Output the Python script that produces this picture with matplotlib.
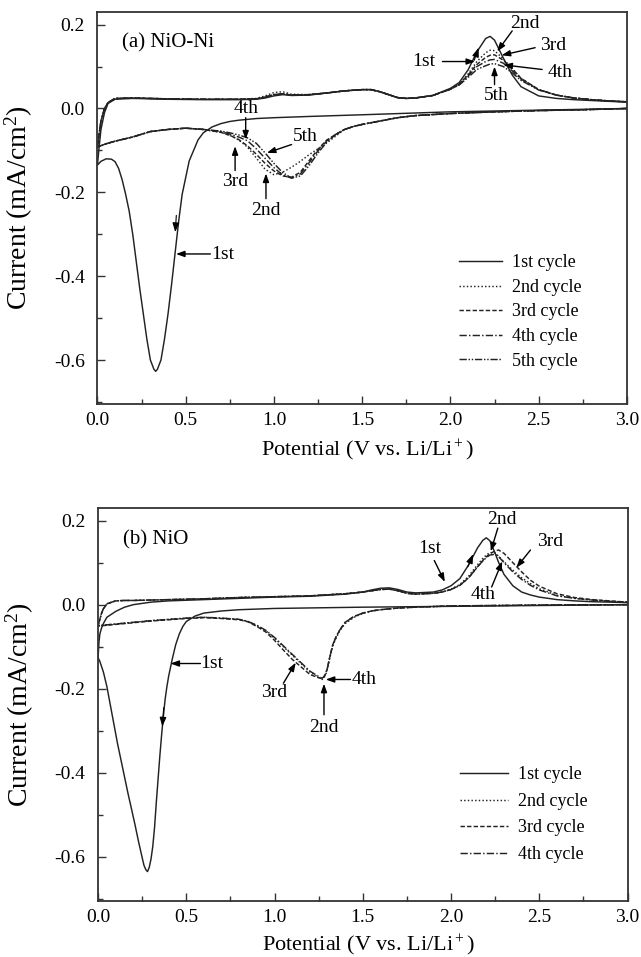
import numpy as np
import matplotlib
matplotlib.use('Agg')
import matplotlib.pyplot as plt
from matplotlib.ticker import MultipleLocator

plt.rcParams['font.family'] = ['Liberation Serif', 'DejaVu Serif']
plt.rcParams['mathtext.fontset'] = 'custom'
plt.rcParams['mathtext.rm'] = 'Liberation Serif'
plt.rcParams['mathtext.it'] = 'Liberation Serif:italic'

# ---------------- panel (a) NiO-Ni ----------------
# first cycle, cathodic scan (3.0 V -> 0 V)
a1_cat_v = [3.0, 2.5, 2.0, 1.5, 1.2, 1.0, 0.9, 0.8, 0.75, 0.7, 0.65, 0.6, 0.57, 0.55, 0.52,
            0.5, 0.48, 0.46, 0.44, 0.42, 0.4, 0.38, 0.36, 0.34, 0.33, 0.32, 0.3, 0.28, 0.26,
            0.24, 0.22, 0.2, 0.18, 0.16, 0.14, 0.12, 0.1, 0.08, 0.05, 0.02, 0.0]
a1_cat_i = [0.0, -0.004, -0.008, -0.015, -0.019, -0.022, -0.024, -0.028, -0.031, -0.036,
            -0.044, -0.058, -0.075, -0.095, -0.125, -0.165, -0.205, -0.27, -0.345, -0.42,
            -0.49, -0.55, -0.60, -0.622, -0.627, -0.622, -0.60, -0.55, -0.49, -0.43, -0.365,
            -0.30, -0.245, -0.205, -0.17, -0.143, -0.127, -0.121, -0.12, -0.126, -0.135]

# later cycles, cathodic scan
a_cat_v = [3.0, 2.75, 2.5, 2.25, 2.0, 1.8, 1.7, 1.6, 1.5, 1.45, 1.4, 1.35, 1.3, 1.25, 1.2,
           1.15, 1.1, 1.05, 1.0, 0.95, 0.9, 0.85, 0.8, 0.75, 0.7, 0.6, 0.5, 0.4, 0.3, 0.2,
           0.1, 0.05, 0.0]
a2_cat_i = [0.0, -0.003, -0.005, -0.008, -0.012, -0.017, -0.022, -0.03, -0.038, -0.043,
            -0.05, -0.066, -0.082, -0.096, -0.11, -0.126, -0.14, -0.152, -0.158, -0.145,
            -0.118, -0.092, -0.075, -0.064, -0.057, -0.05, -0.047, -0.05, -0.055, -0.068,
            -0.078, -0.084, -0.092]
a3_cat_i = [0.0, -0.003, -0.005, -0.008, -0.012, -0.017, -0.022, -0.03, -0.038, -0.043,
            -0.05, -0.062, -0.075, -0.097, -0.124, -0.152, -0.164, -0.161, -0.149, -0.131,
            -0.109, -0.089, -0.074, -0.064, -0.057, -0.05, -0.047, -0.05, -0.055, -0.068,
            -0.078, -0.084, -0.092]
a4_cat_i = [0.0, -0.003, -0.005, -0.008, -0.012, -0.017, -0.022, -0.03, -0.038, -0.043,
            -0.05, -0.062, -0.077, -0.101, -0.129, -0.156, -0.166, -0.159, -0.141, -0.119,
            -0.096, -0.077, -0.068, -0.061, -0.055, -0.05, -0.047, -0.05, -0.055, -0.068,
            -0.078, -0.084, -0.092]
a5_cat_i = [0.0, -0.003, -0.005, -0.008, -0.012, -0.017, -0.022, -0.03, -0.038, -0.043,
            -0.05, -0.062, -0.08, -0.106, -0.136, -0.161, -0.166, -0.153, -0.131, -0.106,
            -0.083, -0.07, -0.063, -0.058, -0.054, -0.05, -0.047, -0.05, -0.055, -0.068,
            -0.078, -0.084, -0.092]

# anodic scan (0 V -> 3.0 V)
a_an_v = [0.0, 0.01, 0.02, 0.04, 0.06, 0.1, 0.2, 0.4, 0.6, 0.8, 0.9, 0.95, 1.0, 1.05, 1.1,
          1.2, 1.3, 1.4, 1.5, 1.55, 1.6, 1.65, 1.7, 1.75, 1.8, 1.9, 2.0, 2.05, 2.1, 2.15,
          2.2, 2.225, 2.25, 2.3, 2.35, 2.4, 2.5, 2.6, 2.7, 2.8, 2.9, 3.0]
a1_an_i = [-0.135, -0.09, -0.05, -0.01, 0.012, 0.022, 0.024, 0.022, 0.021, 0.021, 0.022,
           0.025, 0.03, 0.033, 0.031, 0.032, 0.037, 0.042, 0.045, 0.045, 0.04, 0.033, 0.026,
           0.024, 0.025, 0.031, 0.048, 0.062, 0.092, 0.135, 0.167, 0.172, 0.163, 0.12, 0.08,
           0.052, 0.03, 0.024, 0.021, 0.019, 0.017, 0.015]
a2_an_i = [-0.092, -0.06, -0.03, 0.0, 0.014, 0.024, 0.025, 0.023, 0.022, 0.022, 0.024,
           0.03, 0.038, 0.04, 0.034, 0.033, 0.037, 0.042, 0.045, 0.045, 0.04, 0.033, 0.026,
           0.024, 0.025, 0.031, 0.046, 0.058, 0.082, 0.112, 0.133, 0.139, 0.138, 0.118,
           0.095, 0.072, 0.045, 0.032, 0.025, 0.021, 0.018, 0.016]
a3_an_i = [-0.092, -0.06, -0.03, 0.0, 0.014, 0.024, 0.025, 0.023, 0.022, 0.022, 0.023,
           0.027, 0.033, 0.035, 0.032, 0.033, 0.037, 0.042, 0.045, 0.045, 0.04, 0.033, 0.026,
           0.024, 0.025, 0.031, 0.046, 0.058, 0.08, 0.105, 0.122, 0.127, 0.128, 0.115,
           0.095, 0.072, 0.045, 0.032, 0.025, 0.021, 0.018, 0.016]
a4_an_i = [-0.092, -0.06, -0.03, 0.0, 0.014, 0.024, 0.025, 0.023, 0.022, 0.022, 0.023,
           0.027, 0.033, 0.035, 0.032, 0.033, 0.037, 0.042, 0.045, 0.045, 0.04, 0.033, 0.026,
           0.024, 0.025, 0.031, 0.046, 0.057, 0.077, 0.1, 0.112, 0.116, 0.117, 0.108,
           0.09, 0.07, 0.045, 0.032, 0.025, 0.021, 0.018, 0.016]
a5_an_i = [-0.092, -0.06, -0.03, 0.0, 0.014, 0.024, 0.025, 0.023, 0.022, 0.022, 0.023,
           0.027, 0.033, 0.035, 0.032, 0.033, 0.037, 0.042, 0.045, 0.045, 0.04, 0.033, 0.026,
           0.024, 0.025, 0.031, 0.046, 0.056, 0.074, 0.093, 0.102, 0.106, 0.107, 0.1,
           0.085, 0.067, 0.044, 0.032, 0.025, 0.021, 0.018, 0.016]

# ---------------- panel (b) NiO ----------------
b1_cat_v = [3.0, 2.5, 2.0, 1.5, 1.0, 0.8, 0.7, 0.6, 0.55, 0.5, 0.48, 0.46, 0.44, 0.42, 0.4,
            0.39, 0.38, 0.37, 0.36, 0.35, 0.34, 0.33, 0.32, 0.31, 0.3, 0.29, 0.28, 0.27,
            0.26, 0.25, 0.23, 0.21, 0.19, 0.17, 0.15, 0.13, 0.11, 0.09, 0.07, 0.05, 0.03,
            0.01, 0.0]
b1_cat_i = [0.0, -0.002, -0.004, -0.006, -0.009, -0.012, -0.015, -0.02, -0.027, -0.04,
            -0.052, -0.07, -0.095, -0.13, -0.17, -0.195, -0.225, -0.265, -0.31, -0.36,
            -0.415, -0.47, -0.53, -0.575, -0.605, -0.625, -0.635, -0.63, -0.62, -0.602,
            -0.565, -0.525, -0.487, -0.45, -0.41, -0.37, -0.33, -0.285, -0.24, -0.195,
            -0.16, -0.135, -0.126]

b_cat_v = [3.0, 2.5, 2.0, 1.8, 1.7, 1.6, 1.55, 1.5, 1.45, 1.4, 1.37, 1.35, 1.33, 1.31, 1.3,
           1.29, 1.28, 1.27, 1.25, 1.2, 1.15, 1.1, 1.05, 1.0, 0.95, 0.9, 0.85, 0.8, 0.7, 0.6,
           0.5, 0.4, 0.3, 0.2, 0.1, 0.0]
b2_cat_i = [0.0, -0.001, -0.003, -0.006, -0.008, -0.012, -0.015, -0.021, -0.03, -0.045,
            -0.062, -0.078, -0.098, -0.132, -0.152, -0.166, -0.174, -0.178, -0.173, -0.16,
            -0.14, -0.12, -0.1, -0.08, -0.062, -0.05, -0.04, -0.035, -0.032, -0.03, -0.032,
            -0.035, -0.038, -0.042, -0.046, -0.05]
b3_cat_i = [0.0, -0.001, -0.003, -0.006, -0.008, -0.012, -0.015, -0.02, -0.028, -0.042,
            -0.06, -0.075, -0.095, -0.13, -0.15, -0.164, -0.172, -0.176, -0.174, -0.166,
            -0.148, -0.13, -0.108, -0.085, -0.065, -0.052, -0.041, -0.036, -0.033, -0.031,
            -0.033, -0.036, -0.039, -0.043, -0.047, -0.051]
b4_cat_i = [0.0, -0.001, -0.003, -0.006, -0.008, -0.012, -0.015, -0.02, -0.028, -0.042,
            -0.06, -0.075, -0.095, -0.13, -0.15, -0.164, -0.171, -0.175, -0.171, -0.158,
            -0.138, -0.118, -0.098, -0.078, -0.061, -0.049, -0.04, -0.035, -0.032, -0.03,
            -0.032, -0.035, -0.038, -0.042, -0.046, -0.05]

b_an_v = [0.0, 0.005, 0.01, 0.02, 0.03, 0.05, 0.1, 0.15, 0.2, 0.3, 0.4, 0.6, 0.8, 1.0, 1.2,
          1.4, 1.5, 1.55, 1.6, 1.65, 1.7, 1.75, 1.8, 1.9, 1.95, 2.0, 2.05, 2.1, 2.15, 2.18,
          2.2, 2.22, 2.25, 2.27, 2.3, 2.35, 2.4, 2.45, 2.5, 2.6, 2.7, 2.8, 2.9, 3.0]
b1_an_i = [-0.126, -0.09, -0.07, -0.055, -0.045, -0.03, -0.016, -0.006, 0.0, 0.006, 0.009,
           0.012, 0.015, 0.018, 0.02, 0.025, 0.03, 0.035, 0.039, 0.04, 0.036, 0.03, 0.028,
           0.03, 0.035, 0.045, 0.062, 0.095, 0.135, 0.153, 0.159, 0.152, 0.122, 0.1, 0.072,
           0.045, 0.03, 0.023, 0.018, 0.012, 0.009, 0.007, 0.006, 0.005]
b2_an_i = [-0.05, -0.042, -0.035, -0.02, -0.01, 0.002, 0.009, 0.01, 0.01, 0.011, 0.012,
           0.014, 0.017, 0.019, 0.021, 0.026, 0.03, 0.033, 0.036, 0.037, 0.033, 0.027, 0.025,
           0.027, 0.03, 0.037, 0.048, 0.068, 0.095, 0.11, 0.118, 0.124, 0.123, 0.115, 0.102,
           0.082, 0.064, 0.05, 0.038, 0.022, 0.015, 0.011, 0.008, 0.006]
b3_an_i = [-0.051, -0.042, -0.035, -0.02, -0.01, 0.002, 0.009, 0.01, 0.01, 0.011, 0.012,
           0.014, 0.017, 0.019, 0.021, 0.026, 0.03, 0.033, 0.036, 0.037, 0.033, 0.027, 0.025,
           0.027, 0.03, 0.036, 0.046, 0.064, 0.09, 0.105, 0.114, 0.121, 0.128, 0.13, 0.122,
           0.1, 0.078, 0.058, 0.044, 0.026, 0.017, 0.012, 0.009, 0.006]
b4_an_i = [-0.05, -0.042, -0.035, -0.02, -0.01, 0.002, 0.009, 0.01, 0.01, 0.011, 0.012,
           0.014, 0.017, 0.019, 0.021, 0.026, 0.03, 0.033, 0.036, 0.037, 0.033, 0.027, 0.025,
           0.027, 0.03, 0.036, 0.046, 0.064, 0.09, 0.104, 0.112, 0.118, 0.12, 0.114, 0.1,
           0.078, 0.06, 0.046, 0.035, 0.021, 0.015, 0.011, 0.008, 0.006]

cycle_labels = ['1st cycle', '2nd cycle', '3rd cycle', '4th cycle', '5th cycle']
styles = ['-', (0, (1, 1.5)), (0, (3, 1.5)), (0, (5, 1.5, 1, 1.5)), (0, (5, 1.2, 1, 1.2, 1, 1.2))]
line_col = '#222222'


def cycle(cat_v, cat_i, an_v, an_i):
    return np.array(cat_v + an_v), np.array(cat_i + an_i)


def style_axes(ax, xlab_y):
    ax.set_xlim(0, 3.0)
    ax.set_ylim(-0.705, 0.23)
    ax.xaxis.set_major_locator(MultipleLocator(0.5))
    ax.xaxis.set_minor_locator(MultipleLocator(0.25))
    ax.yaxis.set_major_locator(MultipleLocator(0.2))
    ax.yaxis.set_minor_locator(MultipleLocator(0.1))
    ax.xaxis.set_major_formatter(plt.FuncFormatter(lambda v, p: f'{v:.1f}'))
    ax.yaxis.set_major_formatter(plt.FuncFormatter(lambda v, p: f'{v:.1f}'.replace('-0.0', '0.0')))
    ax.tick_params(which='both', direction='in', top=False, right=False,
                   labelsize=14, color='#333333', width=1.0)
    ax.tick_params(which='major', length=6)
    ax.tick_params(which='minor', length=3.5)
    ax.tick_params(axis='y', which='major', pad=9)
    ax.tick_params(axis='x', which='major', pad=6)
    for s in ax.spines.values():
        s.set_linewidth(1.3)
        s.set_color('#333333')
    ax.set_xlabel('Potential (V vs. Li/Li$^+$)', fontsize=16)
    ax.set_ylabel('Current (mA/cm$^2$)', fontsize=20)
    ax.xaxis.set_label_coords(0.51, xlab_y)
    ax.yaxis.set_label_coords(-0.118, 0.5)


def label_arrow(ax, text, tx, ty, tail, head, ha='center'):
    ax.text(tx, ty, text, fontsize=14, ha=ha, va='center')
    ax.annotate('', xy=head, xytext=tail,
                arrowprops=dict(arrowstyle='-|>,head_length=0.5,head_width=0.18',
                                color='black', lw=1.0, shrinkA=0, shrinkB=0))


def dir_arrow(ax, tail, head):
    ax.annotate('', xy=head, xytext=tail,
                arrowprops=dict(arrowstyle='-|>,head_length=0.55,head_width=0.2',
                                color='black', lw=0.8, shrinkA=0, shrinkB=0))


fig = plt.figure(figsize=(6.41, 9.57), dpi=100)
ax_a = fig.add_axes([0.152, 0.5778, 0.826, 0.4096])
ax_b = fig.add_axes([0.153, 0.0585, 0.826, 0.4107])

# panel (a)
curves_a = [cycle(a1_cat_v, a1_cat_i, a_an_v, a1_an_i),
            cycle(a_cat_v, a2_cat_i, a_an_v, a2_an_i),
            cycle(a_cat_v, a3_cat_i, a_an_v, a3_an_i),
            cycle(a_cat_v, a4_cat_i, a_an_v, a4_an_i),
            cycle(a_cat_v, a5_cat_i, a_an_v, a5_an_i)]
for (v, i), lab, ls in zip(curves_a, cycle_labels, styles):
    ax_a.plot(v, i, ls=ls, color=line_col, lw=1.05, label=lab)
style_axes(ax_a, -0.085)
ax_a.text(0.14, 0.156, '(a) NiO-Ni', fontsize=15, ha='left', va='center')
ax_a.legend(loc='upper left', bbox_to_anchor=(0.683, 0.382), frameon=False,
            fontsize=13, handlelength=2.4, handletextpad=0.55, labelspacing=0.42,
            borderpad=0, borderaxespad=0)

label_arrow(ax_a, '1st', 1.85, 0.111, (1.955, 0.112), (2.14, 0.112))
label_arrow(ax_a, '2nd', 2.42, 0.203, (2.35, 0.185), (2.265, 0.136))
label_arrow(ax_a, '3rd', 2.58, 0.151, (2.48, 0.145), (2.29, 0.127))
label_arrow(ax_a, '4th', 2.62, 0.085, (2.52, 0.093), (2.30, 0.104))
label_arrow(ax_a, '5th', 2.26, 0.03, (2.25, 0.057), (2.25, 0.1))
label_arrow(ax_a, '4th', 0.84, 0.001, (0.84, -0.022), (0.84, -0.074))
label_arrow(ax_a, '5th', 1.18, -0.067, (1.10, -0.086), (0.96, -0.106))
label_arrow(ax_a, '3rd', 0.78, -0.174, (0.78, -0.148), (0.78, -0.09))
label_arrow(ax_a, '2nd', 0.955, -0.243, (0.955, -0.215), (0.955, -0.155))
label_arrow(ax_a, '1st', 0.645, -0.349, (0.64, -0.347), (0.445, -0.347), ha='left')
dir_arrow(ax_a, (0.447, -0.255), (0.441, -0.295))
dir_arrow(ax_a, (2.135, 0.115), (2.16, 0.145))

# panel (b)
curves_b = [cycle(b1_cat_v, b1_cat_i, b_an_v, b1_an_i),
            cycle(b_cat_v, b2_cat_i, b_an_v, b2_an_i),
            cycle(b_cat_v, b3_cat_i, b_an_v, b3_an_i),
            cycle(b_cat_v, b4_cat_i, b_an_v, b4_an_i)]
for (v, i), lab, ls in zip(curves_b, cycle_labels, styles):
    ax_b.plot(v, i, ls=ls, color=line_col, lw=1.05, label=lab)
style_axes(ax_b, -0.082)
ax_b.text(0.14, 0.153, '(b) NiO', fontsize=15, ha='left', va='center')
ax_b.legend(loc='upper left', bbox_to_anchor=(0.683, 0.3426), frameon=False,
            fontsize=13, handlelength=2.7, handletextpad=0.55, labelspacing=0.53,
            borderpad=0, borderaxespad=0)

label_arrow(ax_b, '1st', 1.88, 0.133, (1.905, 0.105), (1.965, 0.054))
label_arrow(ax_b, '2nd', 2.29, 0.202, (2.265, 0.182), (2.225, 0.127))
label_arrow(ax_b, '3rd', 2.56, 0.151, (2.45, 0.13), (2.37, 0.088))
label_arrow(ax_b, '4th', 2.18, 0.024, (2.23, 0.042), (2.29, 0.103))
label_arrow(ax_b, '1st', 0.58, -0.14, (0.58, -0.14), (0.41, -0.14), ha='left')
label_arrow(ax_b, '3rd', 1.0, -0.209, (1.05, -0.187), (1.12, -0.138))
label_arrow(ax_b, '4th', 1.435, -0.178, (1.43, -0.178), (1.29, -0.178), ha='left')
label_arrow(ax_b, '2nd', 1.28, -0.293, (1.28, -0.262), (1.28, -0.188))
dir_arrow(ax_b, (0.372, -0.245), (0.364, -0.29))
dir_arrow(ax_b, (2.095, 0.09), (2.125, 0.12))

fig.savefig('out.png', dpi=100)
